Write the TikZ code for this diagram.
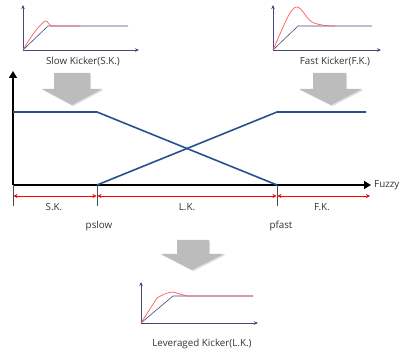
\documentclass[tikz,border=0pt]{standalone}
\usepackage{fontspec}
\setmainfont{Open Sans}
\usetikzlibrary{arrows.meta,shadows}
\definecolor{mainblue}{RGB}{40,80,140}
\definecolor{miniblue}{RGB}{70,70,130}
\definecolor{minired}{RGB}{255,90,90}
\definecolor{arrowgray}{RGB}{188,188,188}
\tikzset{
  lbl/.style={font=\fontsize{9.8}{11}\selectfont, text=black!80, inner sep=0pt},
  axis/.style={black, line width=1.6pt, -{Stealth[length=7pt,width=8pt,inset=0pt]}},
  miniaxis/.style={miniblue, line width=0.7pt, -{Stealth[length=4pt,width=3.5pt]}},
  miniblueline/.style={miniblue, line width=0.6pt},
  miniredline/.style={minired, line width=0.7pt},
  memb/.style={mainblue, line width=1.6pt},
  redarrow/.style={red, line width=0.8pt, {Stealth[length=4pt,width=4pt]}-{Stealth[length=4pt,width=4pt]}},
  tick/.style={black!70, line width=0.5pt},
  grayarrow/.style={fill=arrowgray, draw=none, drop shadow={shadow xshift=1.2pt, shadow yshift=-1.2pt, opacity=0.25}},
}
\begin{document}
\begin{tikzpicture}[x=1pt,y=-1pt]
\useasboundingbox (0,0) rectangle (400,353);
% ---------- Slow kicker mini plot
\coordinate (s0) at (23,50);
\coordinate (sy) at (23,5);
\coordinate (sx) at (139,50);
\draw[miniaxis] (s0) -- (sy);
\draw[miniaxis] (s0) -- (sx);
\draw[miniblueline] (s0) -- (48,26) -- (128,26);
\draw[miniredline] (s0) .. controls (30,38) and (38,26) .. (45,21) .. controls (48,20) and (49,26) .. (52,26) -- (80,26);
\node[lbl] (slowlbl) at (83,62) {Slow Kicker(S.K.)};
% ---------- Fast kicker mini plot
\coordinate (f0) at (273,50);
\coordinate (fy) at (273,5);
\coordinate (fx) at (381,50);
\draw[miniaxis] (f0) -- (fy);
\draw[miniaxis] (f0) -- (fx);
\draw[miniblueline] (f0) -- (298,26) -- (372,26);
\draw[miniredline] (f0) .. controls (282,30) and (290,8) .. (296,7) .. controls (302,6) and (306,20) .. (314,23) .. controls (320,25) and (326,26) .. (335,26);
\node[lbl] (fastlbl) at (335,62) {Fast Kicker(F.K.)};
% ---------- gray arrows
\fill[grayarrow] (54,73) -- (90,73) -- (90,89) -- (102,89) -- (72,105) -- (42,89) -- (54,89) -- cycle;
\fill[grayarrow] (313,73) -- (346,73) -- (346,89) -- (362,89) -- (331,105) -- (299,89) -- (313,89) -- cycle;
\fill[grayarrow] (177,240) -- (209,240) -- (209,254) -- (224,254) -- (192,270) -- (161,254) -- (177,254) -- cycle;
% ---------- main axes
\coordinate (o) at (13,185);
\coordinate (ytop) at (13,71);
\coordinate (xend) at (371,185);
\draw[axis] (o) -- (ytop);
\draw[axis] (o) -- (xend);
\node[lbl, anchor=west] (fuzzy) at (374,185) {Fuzzy};
% membership functions
\coordinate (p1) at (97,185);
\coordinate (p2) at (277,185);
\draw[memb] (13,112) -- (97,112) -- (p2);
\draw[memb] (p1) -- (277,112) -- (366,112);
% ticks
\draw[tick] (13,185) -- (13,206);
\draw[tick] (p1) -- (97,206);
\draw[tick] (p2) -- (277,206);
% red arrows
\coordinate (r0) at (13.5,196);
\coordinate (r1) at (96.5,196);
\coordinate (r2) at (97.5,196);
\coordinate (r3) at (276.5,196);
\coordinate (r4) at (277.5,196);
\coordinate (r5) at (370,196);
\draw[redarrow] (r0) -- (r1);
\draw[redarrow] (r2) -- (r3);
\draw[redarrow] (r4) -- (r5);
\node[lbl] (sk) at (54,207) {S.K.};
\node[lbl] (lk) at (187,207) {L.K.};
\node[lbl] (fk) at (322,207) {F.K.};
\node[lbl] (pslow) at (99,226) {pslow};
\node[lbl] (pfast) at (281,226) {pfast};
% ---------- Leveraged kicker mini plot
\coordinate (l0) at (141,323);
\coordinate (ly) at (141,282);
\coordinate (lx) at (258,323);
\draw[miniaxis] (l0) -- (ly);
\draw[miniaxis] (l0) -- (lx);
\draw[miniblueline] (l0) -- (173,296) -- (253,296);
\draw[miniredline] (l0) -- (157,298) .. controls (162,295) and (168,292) .. (173,292) -- (187,296) -- (253,296);
\node[lbl] (levlbl) at (202,344) {Leveraged Kicker(L.K.)};
\end{tikzpicture}
\end{document}
